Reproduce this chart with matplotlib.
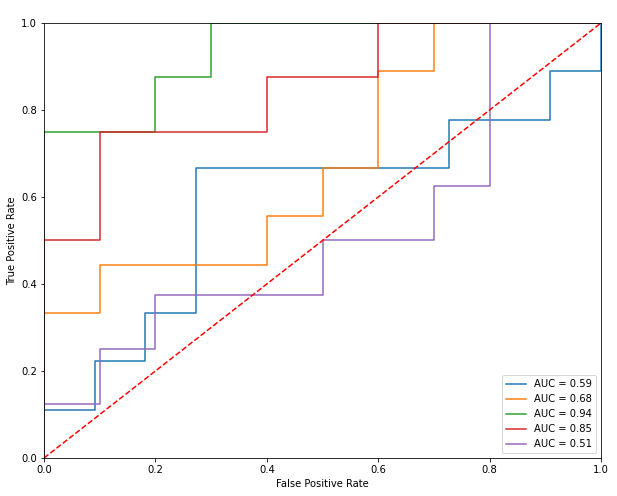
import matplotlib
matplotlib.use("Agg")
import matplotlib.pyplot as plt

# ROC curve points (fpr, tpr) per model
fpr_1 = [0, 0, 1/11, 1/11, 2/11, 2/11, 3/11, 3/11, 8/11, 8/11, 10/11, 10/11, 1, 1]
tpr_1 = [0, 1/9, 1/9, 2/9, 2/9, 3/9, 3/9, 6/9, 6/9, 7/9, 7/9, 8/9, 8/9, 1]

fpr_2 = [0, 0, 0.1, 0.1, 0.4, 0.4, 0.5, 0.5, 0.6, 0.6, 0.7, 0.7, 1]
tpr_2 = [0, 3/9, 3/9, 4/9, 4/9, 5/9, 5/9, 6/9, 6/9, 8/9, 8/9, 1, 1]

fpr_3 = [0, 0, 0.2, 0.2, 0.3, 0.3, 1]
tpr_3 = [0, 0.75, 0.75, 0.875, 0.875, 1, 1]

fpr_4 = [0, 0, 0.1, 0.1, 0.4, 0.4, 0.6, 0.6, 1]
tpr_4 = [0, 0.5, 0.5, 0.75, 0.75, 0.875, 0.875, 1, 1]

fpr_5 = [0, 0, 0.1, 0.1, 0.2, 0.2, 0.5, 0.5, 0.7, 0.7, 0.8, 0.8, 1]
tpr_5 = [0, 0.125, 0.125, 0.25, 0.25, 0.375, 0.375, 0.5, 0.5, 0.625, 0.625, 1, 1]

aucs = [0.59, 0.68, 0.94, 0.85, 0.51]

curves = [(fpr_1, tpr_1), (fpr_2, tpr_2), (fpr_3, tpr_3), (fpr_4, tpr_4), (fpr_5, tpr_5)]

fig = plt.figure(figsize=(617/72, 496/72), dpi=72)
ax = fig.add_axes([44/617, 1 - 458/496, 557/617, 435/496])

for (fpr, tpr), auc in zip(curves, aucs):
    ax.plot(fpr, tpr, label="AUC = %0.2f" % auc)

ax.plot([0, 1], [0, 1], "r--")
ax.set_xlim(0, 1)
ax.set_ylim(0, 1)
ax.set_xlabel("False Positive Rate")
ax.set_ylabel("True Positive Rate")
ax.legend(loc="lower right")

fig.savefig("out.png", dpi=72)
